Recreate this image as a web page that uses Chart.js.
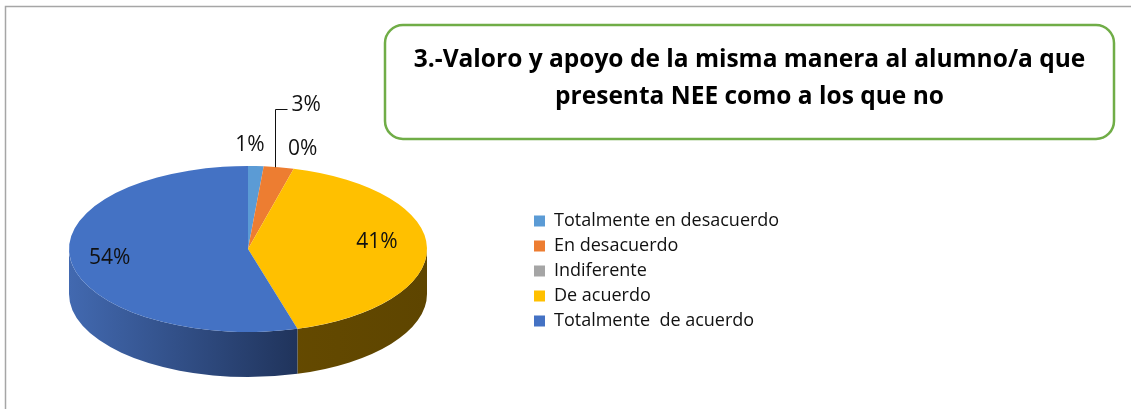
<!DOCTYPE html>
<html>
<head>
<meta charset="utf-8">
<script src="https://cdn.jsdelivr.net/npm/chart.js@4/dist/chart.umd.min.js"></script>
<style>
  html, body { margin: 0; padding: 0; background: #fff; }
  canvas { display: block; }
</style>
</head>
<body>
<canvas id="chart" width="1131" height="409"></canvas>
<script>
// datos del gráfico
const categories = ['Totalmente en desacuerdo', 'En desacuerdo', 'Indiferente', 'De acuerdo', 'Totalmente  de acuerdo'];
const percentValues = [1.4, 2.7, 0, 41.4, 54.4];
const sliceColors = ['#5B9BD5', '#ED7D31', '#A5A5A5', '#FFC000', '#4472C4'];
const titleLines = ['3.-Valoro y apoyo de la misma manera al alumno/a que', 'presenta NEE como a los que no'];

const fontFamily = '"Open Sans", Lato, sans-serif';
const legendFontSize = 18;
const legendPad = 7;

// medir la leyenda para colocarla bajo el título
const measure = document.createElement('canvas').getContext('2d');
measure.font = legendFontSize + 'px ' + fontFamily;
const legendTextW = Math.max(...categories.map(c => measure.measureText(c).width));
const legendLeft = 537;
const legendRight = legendLeft + legendPad + 11 + legendFontSize / 2 + legendTextW;

// tarta 3D: escala la tarta a una elipse y dibuja el lateral
const pie3d = {
    id: 'pie3d',
    beforeDatasetsDraw(chart, args, opts) {
        const meta = chart.getDatasetMeta(0);
        const first = meta.data[0];
        const ctx = chart.ctx;
        const R = first.outerRadius;
        ctx.save();
        ctx.translate(opts.cx, opts.cy);
        ctx.scale(opts.rx / R, opts.ry / R);
        ctx.translate(-first.x, -first.y);
        const d = opts.depth * R / opts.ry;
        meta.data.forEach((arc, i) => {
            const s = Math.max(arc.startAngle, 0);
            const e = Math.min(arc.endAngle, Math.PI);
            if (e <= s) return;
            const g = ctx.createLinearGradient(arc.x - R, 0, arc.x + R, 0);
            opts.sides[i].forEach(([t, c]) => g.addColorStop(t, c));
            ctx.beginPath();
            ctx.arc(arc.x, arc.y, R, s, e);
            ctx.arc(arc.x, arc.y + d, R, e, s, true);
            ctx.closePath();
            ctx.fillStyle = g;
            ctx.fill();
        });
    },
    afterDatasetsDraw(chart) {
        chart.ctx.restore();
    }
};

// etiquetas de porcentaje
const pieLabels = {
    id: 'pieLabels',
    afterDraw(chart, args, opts) {
        const geo = chart.options.plugins.pie3d;
        const ctx = chart.ctx;
        const meta = chart.getDatasetMeta(0);
        ctx.save();
        ctx.font = opts.fontSize + 'px ' + fontFamily;
        ctx.fillStyle = '#111';
        ctx.strokeStyle = '#111';
        ctx.lineWidth = 1;
        ctx.textBaseline = 'middle';
        meta.data.forEach((arc, i) => {
            const p = opts.placement[i];
            const m = (arc.startAngle + arc.endAngle) / 2;
            const x = geo.cx + geo.rx * p.f * Math.cos(m);
            const y = geo.cy + geo.ry * p.f * Math.sin(m);
            const text = Math.round(percentValues[i]) + '%';
            if (p.leader) {
                const lx = Math.round(x + p.dx) + 0.5;
                const ly = Math.round(y - p.leader) + 0.5;
                ctx.beginPath();
                ctx.moveTo(lx, y);
                ctx.lineTo(lx, ly);
                ctx.lineTo(lx + 12, ly);
                ctx.stroke();
                ctx.textAlign = 'left';
                ctx.fillText(text, lx + 16, ly - 4);
            } else {
                ctx.textAlign = 'center';
                ctx.fillText(text, x + p.dx, y + p.dy);
            }
        });
        ctx.restore();
    }
};

// marco del gráfico y cuadro del título
const frame = {
    id: 'frame',
    afterDraw(chart, args, opts) {
        const ctx = chart.ctx;
        ctx.save();
        ctx.strokeStyle = '#a6a6a6';
        ctx.lineWidth = 1.5;
        ctx.strokeRect(5.5, 6.5, 1140, 420);

        const b = opts.box;
        ctx.beginPath();
        ctx.roundRect(b.x, b.y, b.w, b.h, 18);
        ctx.strokeStyle = '#70AD47';
        ctx.lineWidth = 2.5;
        ctx.stroke();

        ctx.fillStyle = '#000';
        ctx.font = 'bold ' + opts.fontSize + 'px ' + fontFamily;
        ctx.textAlign = 'center';
        ctx.textBaseline = 'middle';
        titleLines.forEach((line, i) => {
            ctx.fillText(line, b.x + b.w / 2, b.y + 35 + i * 37);
        });
        ctx.restore();
    }
};

new Chart(document.getElementById('chart'), {
    type: 'pie',
    data: {
        labels: categories,
        datasets: [{
            data: percentValues,
            backgroundColor: sliceColors,
            borderWidth: 0,
            clip: false
        }]
    },
    options: {
        responsive: false,
        animation: false,
        events: [],
        layout: {
            padding: { top: 140, right: 1131 - legendRight, bottom: 7, left: 0 }
        },
        plugins: {
            legend: {
                position: 'right',
                labels: {
                    boxWidth: 11,
                    boxHeight: 11,
                    padding: legendPad,
                    color: '#111',
                    font: { family: fontFamily, size: legendFontSize }
                }
            },
            tooltip: { enabled: false },
            pie3d: {
                cx: 248, cy: 249, rx: 179, ry: 83, depth: 45,
                sides: [
                    [[0, '#3a6690'], [1, '#2a4d70']],
                    [[0, '#8a4a1c'], [1, '#7a3f15']],
                    [[0, '#606060'], [1, '#505050']],
                    [[0, '#6e5100'], [1, '#5e4500']],
                    [[0, '#4269b0'], [0.656, '#1f3259'], [1, '#142240']]
                ]
            },
            pieLabels: {
                fontSize: 21,
                placement: [
                    { f: 1, dx: -6, dy: -21 },
                    { f: 1, dx: -4, leader: 58 },
                    { f: 1, dx: 9, dy: -20 },
                    { f: 0.72, dx: 0, dy: -6 },
                    { f: 0.78, dx: 0, dy: 0 }
                ]
            },
            frame: {
                fontSize: 24.5,
                box: { x: 385, y: 25, w: 729, h: 114 }
            }
        }
    },
    plugins: [pie3d, pieLabels, frame]
});
</script>
</body>
</html>
